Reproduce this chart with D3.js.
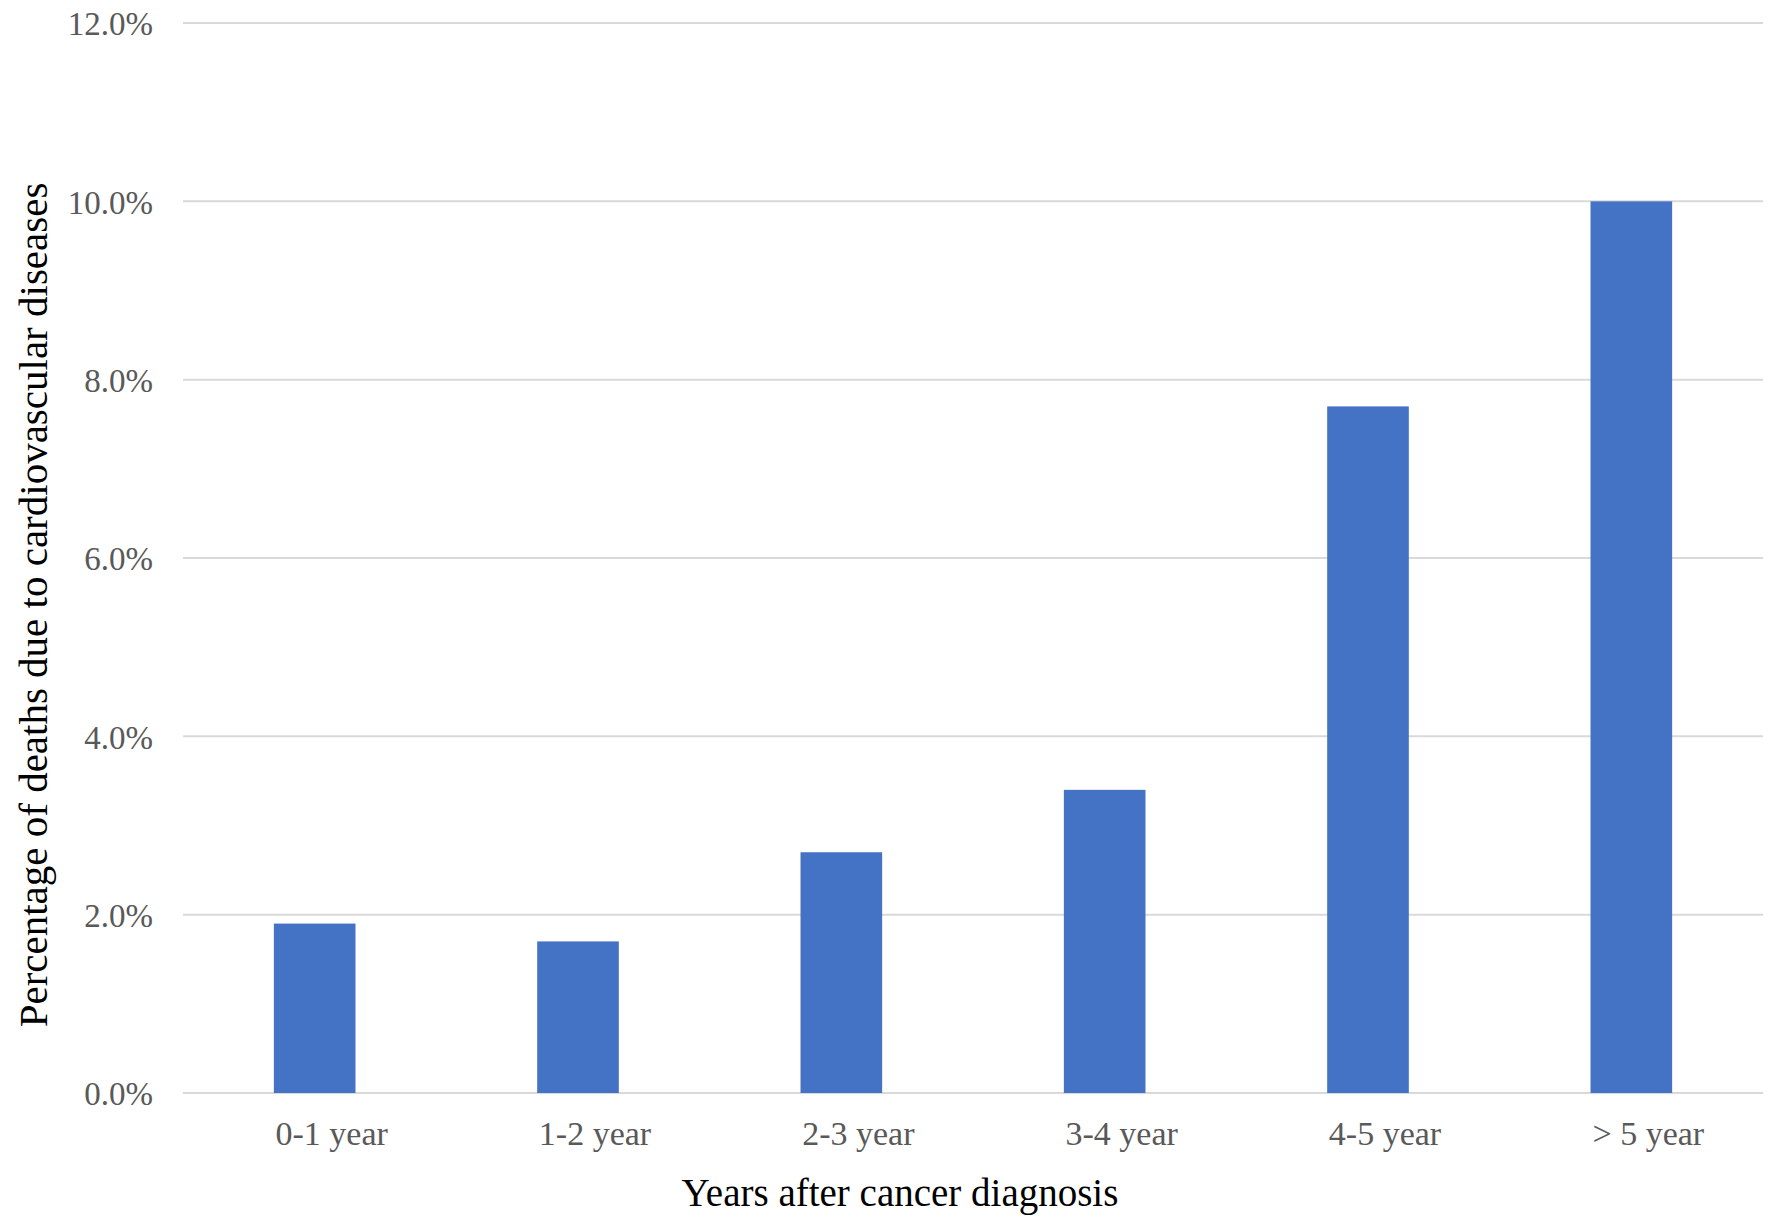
<!DOCTYPE html>
<html>
<head>
<meta charset="utf-8">
<script src="https://cdn.jsdelivr.net/npm/d3@7"></script>
<style>
  body { margin: 0; background: #fff; }
  text { font-family: "Liberation Serif", "Times New Roman", serif; }
</style>
</head>
<body>
<svg id="chart" width="1772" height="1231"></svg>
<script>
// data
const categories = ["0-1 year", "1-2 year", "2-3 year", "3-4 year", "4-5 year", "> 5 year"];
const values = [1.9, 1.7, 2.7, 3.4, 7.7, 10.0];
const yTicks = [0, 2, 4, 6, 8, 10, 12];

var svg = d3.select('#chart');

var padding = { t: 23, r: 9, b: 138, l: 183 };
var chartWidth = 1772 - padding.l - padding.r;
var chartHeight = 1231 - padding.t - padding.b;

var chartG = svg.append('g')
  .attr('transform', `translate(${padding.l}, ${padding.t})`);

var xScale = d3.scaleBand()
  .domain(categories)
  .range([0, chartWidth])
  .paddingInner(0.69)
  .paddingOuter(0.345);

var yScale = d3.scaleLinear()
  .domain([0, 12])
  .range([chartHeight, 0]);

// gridlines
chartG.append('g')
  .selectAll('line')
  .data(yTicks)
  .enter()
  .append('line')
  .attr('x1', 0)
  .attr('x2', chartWidth)
  .attr('y1', d => yScale(d))
  .attr('y2', d => yScale(d))
  .attr('stroke', '#d9d9d9')
  .attr('stroke-width', 2);

// bars
chartG.append('g')
  .selectAll('rect')
  .data(values)
  .enter()
  .append('rect')
  .attr('x', (d, i) => xScale(categories[i]))
  .attr('y', d => yScale(d))
  .attr('width', xScale.bandwidth())
  .attr('height', d => chartHeight - yScale(d))
  .attr('fill', '#4472c4');

// y axis labels
var yAxis = d3.axisLeft(yScale)
  .tickValues(yTicks)
  .tickFormat(d => d.toFixed(1) + '%')
  .tickSize(0)
  .tickPadding(30);

var yG = chartG.append('g').call(yAxis);
yG.select('.domain').remove();
yG.selectAll('text')
  .attr('font-family', '"Liberation Serif", serif')
  .attr('font-size', 33)
  .attr('fill', '#595959')
  .attr('dy', '0.36em');

// x axis labels (sit a little right of the bar centres in the original)
var xAxis = d3.axisBottom(xScale)
  .tickSize(0)
  .tickPadding(28);

var xG = chartG.append('g')
  .attr('transform', `translate(0, ${chartHeight})`)
  .call(xAxis);
xG.select('.domain').remove();
xG.selectAll('text')
  .attr('font-family', '"Liberation Serif", serif')
  .attr('font-size', 34)
  .attr('fill', '#595959')
  .attr('dx', 17);

// axis titles
svg.append('text')
  .attr('x', padding.l + chartWidth / 2 - 73)
  .attr('y', 1206)
  .attr('text-anchor', 'middle')
  .attr('font-size', 39)
  .attr('fill', '#000')
  .text('Years after cancer diagnosis');

svg.append('text')
  .attr('transform', 'translate(47, 605) rotate(-90)')
  .attr('text-anchor', 'middle')
  .attr('font-size', 41)
  .attr('fill', '#000')
  .text('Percentage of deaths due to cardiovascular diseases');
</script>
</body>
</html>
